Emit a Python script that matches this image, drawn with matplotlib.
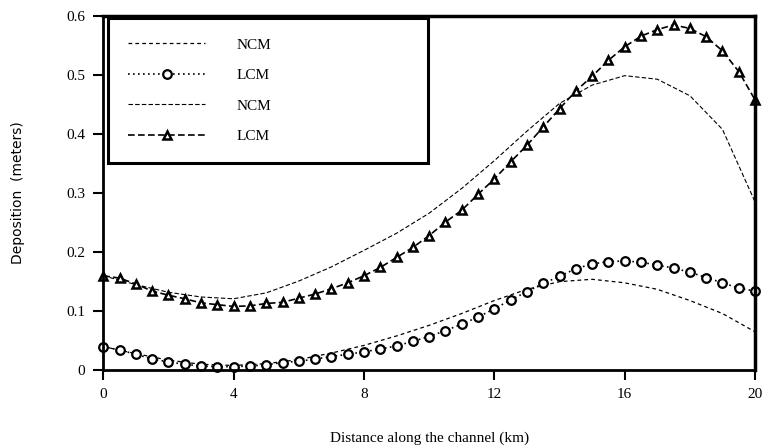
import numpy as np
import matplotlib.pyplot as plt

# distance along the channel (km)
x_ncm = [0, 1, 2, 3, 4, 5, 6, 7, 8, 9, 10, 11, 12, 13, 14, 15, 16, 17, 18, 19, 20]
x_lcm = [0, 0.5, 1, 1.5, 2, 2.5, 3, 3.5, 4, 4.5, 5, 5.5, 6, 6.5, 7, 7.5, 8, 8.5, 9, 9.5, 10,
         10.5, 11, 11.5, 12, 12.5, 13, 13.5, 14, 14.5, 15, 15.5, 16, 16.5, 17, 17.5, 18, 18.5, 19, 19.5, 20]

# lower pair
ncm_low = [0.040, 0.028, 0.017, 0.010, 0.008, 0.011, 0.018, 0.029, 0.042, 0.058, 0.076,
           0.096, 0.118, 0.137, 0.150, 0.154, 0.148, 0.137, 0.118, 0.096, 0.065]
lcm_low = [0.040, 0.034, 0.027, 0.019, 0.014, 0.010, 0.007, 0.006, 0.006, 0.007, 0.009,
           0.013, 0.015, 0.019, 0.023, 0.027, 0.031, 0.036, 0.041, 0.049, 0.057,
           0.067, 0.078, 0.090, 0.104, 0.119, 0.133, 0.147, 0.159, 0.172, 0.180,
           0.184, 0.185, 0.183, 0.178, 0.173, 0.166, 0.157, 0.148, 0.139, 0.134]

# upper pair
ncm_high = [0.160, 0.145, 0.132, 0.124, 0.121, 0.131, 0.151, 0.175, 0.203, 0.232, 0.266,
            0.308, 0.355, 0.405, 0.452, 0.483, 0.499, 0.493, 0.465, 0.408, 0.285]
lcm_high = [0.160, 0.156, 0.146, 0.134, 0.127, 0.121, 0.114, 0.111, 0.108, 0.109, 0.113,
            0.115, 0.122, 0.129, 0.138, 0.148, 0.160, 0.174, 0.191, 0.208, 0.228,
            0.251, 0.271, 0.298, 0.324, 0.353, 0.381, 0.412, 0.443, 0.473, 0.498,
            0.525, 0.548, 0.566, 0.577, 0.585, 0.579, 0.565, 0.541, 0.506, 0.458]

serif = 'Liberation Serif'

fig = plt.figure(figsize=(7.65, 4.46), dpi=100)
ax = fig.add_axes([0.135, 0.170, 0.852, 0.794])

ax.plot(x_ncm, ncm_low, color='black', linestyle=(0, (3, 2.5)), linewidth=0.9, label='NCM')
ax.plot(x_lcm, lcm_low, color='black', linestyle=(0, (1, 2)), linewidth=1.2,
        marker='o', markersize=6.2, markerfacecolor='white', markeredgewidth=1.6,
        clip_on=False, label='LCM')
ax.plot(x_ncm, ncm_high, color='black', linestyle=(0, (4, 2)), linewidth=0.8, label='NCM')
ax.plot(x_lcm, lcm_high, color='black', linestyle=(0, (4, 2)), linewidth=1.2,
        marker='^', markersize=6, markerfacecolor='white', markeredgewidth=1.8,
        clip_on=False, label='LCM')

ax.set_xlim(0, 20)
ax.set_ylim(0, 0.6)
ax.set_xticks([0, 4, 8, 12, 16, 20])
ax.set_yticks([0, 0.1, 0.2, 0.3, 0.4, 0.5, 0.6])
ax.set_yticklabels(['0', '0.1', '0.2', '0.3', '0.4', '0.5', '0.6'])
ax.tick_params(direction='out', length=7, width=1.5, labelsize=11, pad=6)
for lab in ax.get_xticklabels() + ax.get_yticklabels():
    lab.set_family(serif)
for side in ['top', 'right']:
    ax.spines[side].set_linewidth(2.5)
for side in ['left', 'bottom']:
    ax.spines[side].set_linewidth(2.0)

ax.set_xlabel('Distance along the channel (km)', fontsize=11, family=serif, labelpad=22)
ax.set_ylabel('Deposition  (meters)', fontsize=10, labelpad=30)

leg = ax.legend(loc='upper left', bbox_to_anchor=(0.008, 0.56, 0.49, 0.434), mode='expand',
                borderaxespad=0, fancybox=False, edgecolor='black', framealpha=1,
                prop={'family': serif, 'size': 11}, handlelength=5.0, handletextpad=2.1,
                labelspacing=1.1, borderpad=1.3)
leg.get_frame().set_linewidth(2.2)

fig.savefig('out.png', dpi=100)
